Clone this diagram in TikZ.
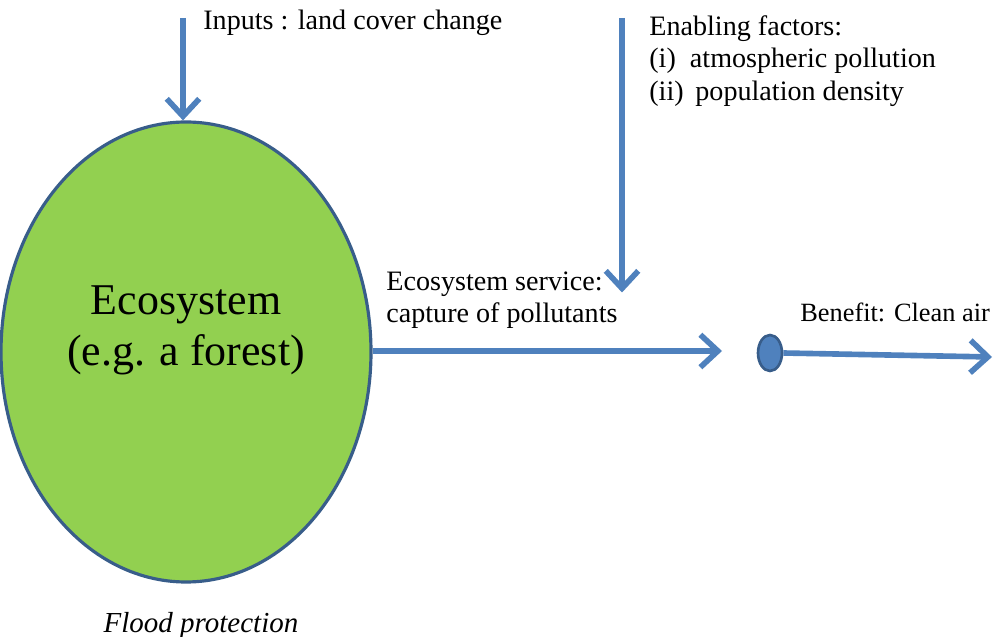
\documentclass[tikz,border=0pt]{standalone}
\usepackage{fontspec}
\setmainfont{Liberation Serif}
\usetikzlibrary{arrows.meta, positioning, shapes.geometric}
\definecolor{flowblue}{HTML}{4F81BD}
\definecolor{edgeblue}{HTML}{385D8A}
\definecolor{leafgreen}{HTML}{92D050}
\tikzset{
    flow/.style={
           draw=flowblue,
           line width=3.2pt,
           -{Straight Barb[length=3.5mm, width=6.5mm, line width=3.2pt]},
           },
    tag/.style={
           font=\fontsize{16}{18.5}\selectfont,
           inner sep=0pt,
           align=left,
           },
}

\begin{document}
\begin{tikzpicture}
  \useasboundingbox (0,0) rectangle (19.86,-12.74);
  \node[ellipse, draw=edgeblue, line width=1.8pt, fill=leafgreen,
        minimum width=7.4cm, minimum height=9.2cm]  (eco)  at (3.72,-7.04) {};
  \node[font=\fontsize{25}{29}\selectfont, align=center, above=-0.58cm of eco.center] (ecotext) {Ecosystem\\(e.g. a forest)};
  \node[ellipse, draw=edgeblue, line width=1.5pt, fill=flowblue,
        minimum width=0.48cm, minimum height=0.72cm, inner sep=0pt] (dot) at (15.4,-7.06) {};

  \coordinate (intop)     at (3.66,-0.36);
  \coordinate (enabtop)   at (12.44,-0.36);
  \coordinate (enabtip)   at (12.44,-5.85);
  \coordinate (servtip)   at (14.44,-7.02);
  \coordinate (benefittip) at (19.84,-7.14);

  \node[tag, anchor=west]       (inputs)  at (4.06,-0.46) {Inputs : land cover change};
  \node[tag, anchor=north west] (enab)    at (12.98,-0.3) {Enabling factors:\\(i)\enspace atmospheric pollution\\(ii)\, population density};
  \node[tag, anchor=west]       (serv)    at (7.72,-6.0)  {Ecosystem service:\\capture of pollutants};
  \node[tag, anchor=west, font=\fontsize{15}{18}\selectfont] (benefit) at (16.0,-6.24) {Benefit: Clean air};
  \node[tag, font=\fontsize{16.5}{18}\selectfont\itshape] (flood) at (4.02,-12.52) {Flood protection};

  \draw[flow] (intop)   -- (intop |- eco.north);
  \draw[flow] (enabtop) -- (enabtip);
  \draw[flow] (eco.east |- servtip) -- (servtip);
  \draw[flow] (dot.east) -- (benefittip);
\end{tikzpicture}
\end{document}
